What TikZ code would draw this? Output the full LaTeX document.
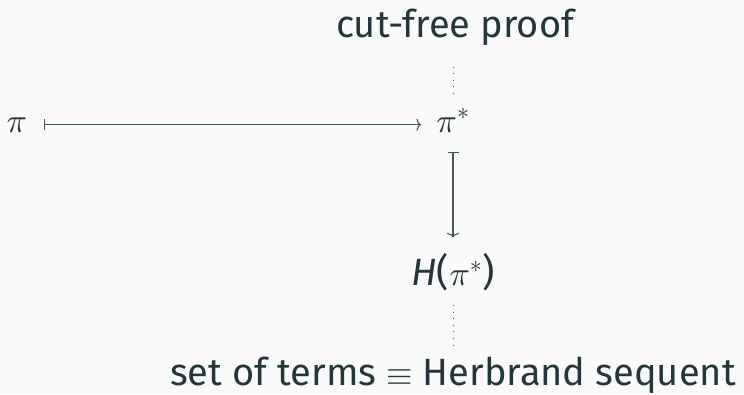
\documentclass[tikz,border=0pt]{standalone}
\usepackage{fontspec}
\setmainfont{Fira Sans}
\usetikzlibrary{arrows.meta}
\DeclareFontShape{OML}{cmm}{m}{it}{<->cmmi10}{}
\DeclareFontShape{OMS}{cmsy}{m}{n}{<->cmsy10}{}
\DeclareMathSizes{38}{34}{24}{17}
\definecolor{mDark}{HTML}{23373B}
\definecolor{bgc}{HTML}{FAFAFA}
\begin{document}
\begin{tikzpicture}[x=1pt,y=-1pt,
  lbl/.style={text=mDark, font=\fontsize{38}{45}\selectfont, anchor=base, inner sep=3.3pt},
  mapline/.style={draw=mDark!85, line width=1.1pt, {Bar[width=11pt]}-{To[length=4.5pt,width=12pt]}},
  dotline/.style={draw=mDark!85, line width=1pt, dash pattern=on 1pt off 5.6pt}]
\fill[bgc] (0,0) rectangle (744,394);
\useasboundingbox (0,0) rectangle (744,394);
\node[lbl] (top) at (455,37) {cut-free proof};
\node[lbl] (pi) at (17,132) {$\pi$};
\node[lbl] (ps) at (453,132) {$\pi^*$};
\node[lbl] (H) at (453,285) {\textit{H}($\pi^*$)};
\node[lbl] (bot) at (453,385) {set of terms $\equiv$ Herbrand sequent};
\draw[mapline, shorten <=13pt, shorten >=12pt] (pi.east) -- (pi.east -| ps.west);
\draw[mapline, shorten <=16pt, shorten >=12pt] (ps.south) -- (H.north);
\draw[dotline, shorten <=11pt, shorten >=14pt] (ps.north) -- (ps.north |- top.south);
\draw[dotline, shorten <=11pt, shorten >=8pt] (H.south) -- (H.south |- bot.north);
\end{tikzpicture}
\end{document}
